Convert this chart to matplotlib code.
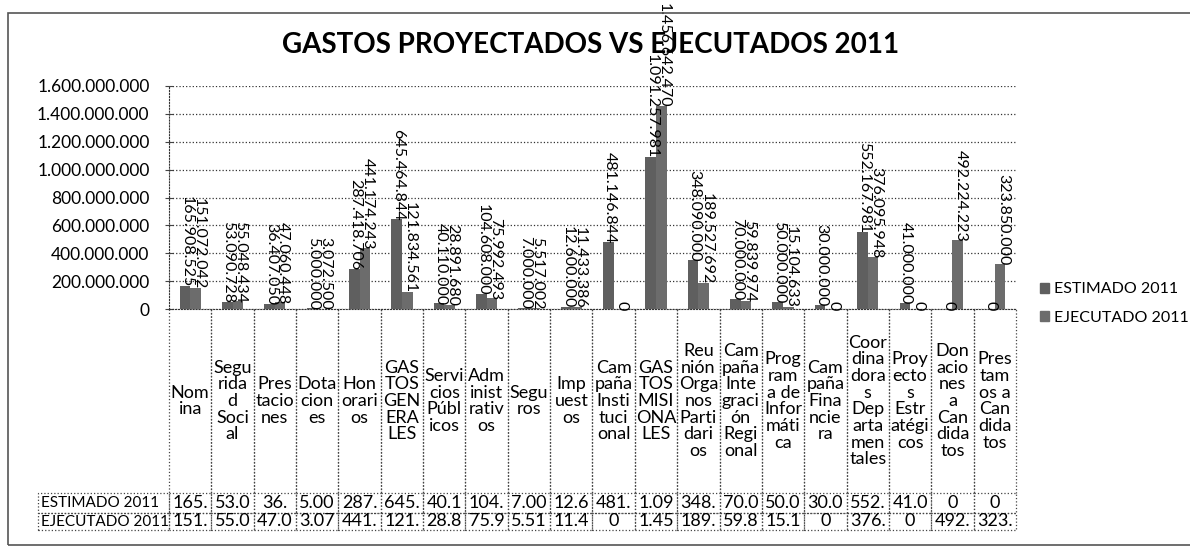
import matplotlib
matplotlib.use("Agg")
import matplotlib.pyplot as plt
import numpy as np
from matplotlib.table import Table
from matplotlib.patches import Rectangle, Patch

plt.rcParams['font.family'] = ['Lato', 'DejaVu Sans']

# Categories as wrapped in the table header
categories = [
    "Nom\nina", "Segu\nrida\nd\nSoci\nal", "Pres\ntacio\nnes", "Dota\ncion\nes",
    "Hon\norari\nos", "GAS\nTOS\nGEN\nERA\nLES", "Servi\ncios\nPúbl\nicos",
    "Adm\ninist\nrativ\nos", "Segu\nros", "Imp\nuest\nos",
    "Cam\npaña\nInsti\ntuci\nonal", "GAS\nTOS\nMISI\nONA\nLES",
    "Reu\nnión\nOrga\nnos\nParti\ndari\nos", "Cam\npaña\nInte\ngraci\nón\nRegi\nonal",
    "Prog\nram\na de\nInfor\nmáti\nca", "Cam\npaña\nFina\nncie\nra",
    "Coor\ndina\ndora\ns\nDep\narta\nmen\ntales", "Proy\necto\ns\nEstr\natégi\ncos",
    "Don\nacio\nnes\na\nCan\ndida\ntos", "Pres\ntam\nos a\nCan\ndida\ntos",
]

estimado = [165908525, 53090728, 36407050, 5000000, 287418706, 645464844,
            40110000, 104608000, 7000000, 12600000, 481146844, 1091257981,
            348090000, 70000000, 50000000, 30000000, 552167981, 41000000, 0, 0]
ejecutado = [151072042, 55048434, 47060448, 3072500, 441174243, 121834561,
             28891680, 75992493, 5517002, 11433386, 0, 1456642470,
             189527692, 59839974, 15104633, 0, 376095948, 0, 492224223, 323850000]

# truncated values as shown in the data table
est_txt = ["165.", "53.0", "36.", "5.00", "287.", "645.", "40.1", "104.", "7.00", "12.6",
           "481.", "1.09", "348.", "70.0", "50.0", "30.0", "552.", "41.0", "0", "0"]
eje_txt = ["151.", "55.0", "47.0", "3.07", "441.", "121.", "28.8", "75.9", "5.51", "11.4",
           "0", "1.45", "189.", "59.8", "15.1", "0", "376.", "0", "492.", "323."]

series_names = ["ESTIMADO 2011", "EJECUTADO 2011"]
yticks = np.arange(0, 1.6e9 + 1, 2e8)


def fmt(v):
    return f"{int(v):,}".replace(",", ".")


W, H = 1190, 550
fig = plt.figure(figsize=(W / 100, H / 100), dpi=100)

# plot area in pixels
x0, x1, ytop, ybot = 169, 1016, 86, 309
ax = fig.add_axes([x0 / W, 1 - ybot / H, (x1 - x0) / W, (ybot - ytop) / H])

n = len(categories)
x = np.arange(n)
bw = 0.25
c_est, c_eje = "#5f5f5f", "#6c6c6c"
ax.bar(x - bw / 2, estimado, bw, color=c_est, zorder=3)
ax.bar(x + bw / 2, ejecutado, bw, color=c_eje, zorder=3)

for xi, v in zip(x - bw / 2, estimado):
    ax.annotate(fmt(v), (xi, v), xytext=(1, -1), textcoords="offset points",
                rotation=-90, ha="center", va="bottom", fontsize=11.5, zorder=4)
for xi, v in zip(x + bw / 2, ejecutado):
    ax.annotate(fmt(v), (xi, v), xytext=(2, -1), textcoords="offset points",
                rotation=-90, ha="center", va="bottom", fontsize=11.5, zorder=4)

ax.set_xlim(-0.5, n - 0.5)
ax.set_ylim(0, 1.6e9)
ax.set_yticks(yticks)
ax.set_yticklabels([fmt(t) for t in yticks], fontsize=12.5)
ax.set_xticks([])
ax.yaxis.grid(True, linestyle=":", color="#333333", linewidth=0.9)
ax.tick_params(axis="y", direction="inout", length=6, pad=11, color="#444444")
for s in ["top", "right"]:
    ax.spines[s].set_visible(False)
for s in ["left", "bottom"]:
    ax.spines[s].set_linestyle(":")
    ax.spines[s].set_color("#333333")
ax.set_facecolor("none")

# data table below the plot
lab_w = x0 - 38
col_w = (x1 - x0) / n
head_h, r1_h, r2_h = 493 - ybot, 20, 17
tb_h = head_h + r1_h + r2_h
bbox = [-lab_w / (x1 - x0), -tb_h / (ybot - ytop), 1 + lab_w / (x1 - x0), tb_h / (ybot - ytop)]
tbl = Table(ax, bbox=bbox)
rows = [("", categories), (series_names[0], est_txt), (series_names[1], eje_txt)]
heights = [head_h, r1_h, r2_h]
for r, (lab, vals) in enumerate(rows):
    c = tbl.add_cell(r, 0, lab_w, heights[r], text=lab, loc="left",
                     edgecolor="#444444", facecolor="none")
    c.PAD = 0.025
    if r == 0:
        c.visible_edges = ""
    for j, t in enumerate(vals):
        cell = tbl.add_cell(r, j + 1, col_w, heights[r], text=t, loc="center",
                            edgecolor="#444444", facecolor="none")
        if r == 0:
            cell.visible_edges = "LR"
            cell.get_text().set_linespacing(1.05)
tbl.auto_set_font_size(False)
tbl.set_fontsize(13)
for (r, cidx), cell in tbl.get_celld().items():
    cell.set_linestyle(":")
    cell.set_linewidth(0.9)
    if cidx == 0:
        cell.get_text().set_fontsize(11)
ax.add_table(tbl)

fig.text(0.496, 1 - 45 / H, "GASTOS PROYECTADOS VS EJECUTADOS 2011",
         ha="center", va="center", fontsize=20, fontweight="bold")

handles = [Patch(color=c_est), Patch(color=c_eje)]
fig.legend(handles, series_names, loc="upper left",
           bbox_to_anchor=(1026 / W, 1 - 268 / H), frameon=False, fontsize=11.5,
           handlelength=0.55, handleheight=0.55, handletextpad=0.3, labelspacing=0.9)

fig.patches.append(Rectangle((8 / W, 5 / H), 1.0, 1 - 18 / H, transform=fig.transFigure,
                             fill=False, edgecolor="#555555", linewidth=1.2))

fig.savefig("out.png", dpi=100)
